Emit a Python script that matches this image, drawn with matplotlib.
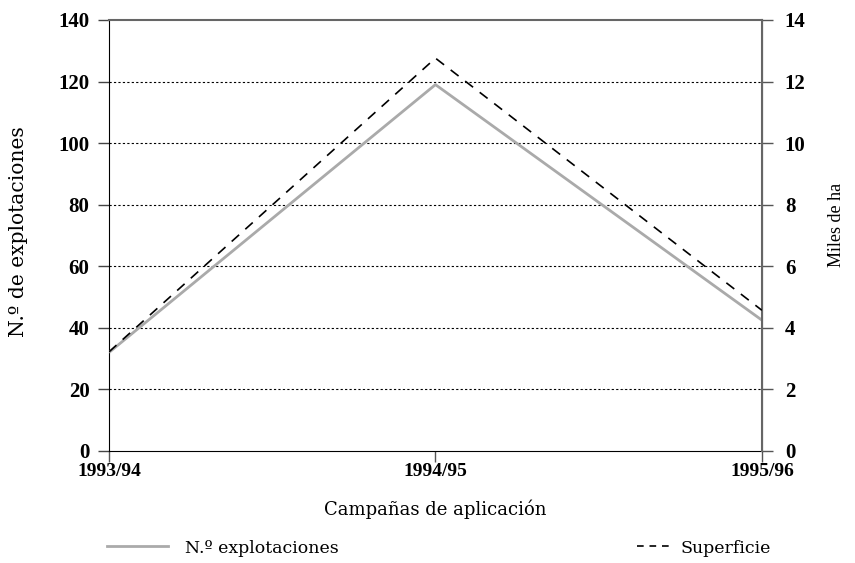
import matplotlib
matplotlib.use("Agg")
import matplotlib.pyplot as plt
from matplotlib.lines import Line2D

campaigns = ["1993/94", "1994/95", "1995/96"]
explotaciones = [32, 119, 42.5]
superficie = [3.22, 12.76, 4.57]
left_ticks = [0, 20, 40, 60, 80, 100, 120, 140]
right_ticks = [0, 2, 4, 6, 8, 10, 12, 14]

plt.rcParams['font.family'] = ['DejaVu Serif']
TICKFONT = ['Liberation Serif', 'DejaVu Serif']

fig = plt.figure(figsize=(8.55, 5.63), dpi=100)
ax = fig.add_axes([0.1275, 0.199, 0.7636, 0.7655])
ax2 = ax.twinx()

x = list(range(len(campaigns)))
ax.plot(x, explotaciones, color="#aaaaaa", lw=2, solid_capstyle='butt', zorder=3)
ax2.plot(x, superficie, color="black", lw=1.2, linestyle=(0, (6, 5)), zorder=3)

ax.set_xlim(0, 2)
ax.set_ylim(0, 140)
ax2.set_ylim(0, 14)
ax.set_yticks(left_ticks)
ax2.set_yticks(right_ticks)
ax.set_xticks(x)
ax.set_xticklabels(campaigns, fontsize=14, fontweight='bold', family=TICKFONT)
ax.set_yticklabels([str(v) for v in left_ticks], fontsize=15, fontweight='bold', family=TICKFONT)
ax2.set_yticklabels([str(v) for v in right_ticks], fontsize=15, fontweight='bold', family=TICKFONT)

for v in left_ticks[1:-1]:
    ax.axhline(v, color="black", lw=0.8, linestyle=(0, (2, 2)), zorder=1)

ax.tick_params(axis='y', direction='out', length=8, width=1, color="#444444", pad=6)
ax2.tick_params(axis='y', direction='out', length=8, width=1, color="#555555", pad=8.5)
ax.tick_params(axis='x', direction='out', length=8, width=1, color="#555555", pad=1)

ax.spines['left'].set_color('black')
ax.spines['bottom'].set_color('black')
ax.spines['top'].set_color('#666666')
ax.spines['top'].set_linewidth(1.5)
ax2.spines['right'].set_color('#666666')
ax2.spines['right'].set_linewidth(1.5)
for s in ['left', 'bottom', 'top']:
    ax2.spines[s].set_visible(False)

ax.set_ylabel("N.º de explotaciones", fontsize=14.6)
ax.yaxis.set_label_coords(-0.124, 0.51)
ax2.set_ylabel("Miles de ha", fontsize=13, family=TICKFONT)
ax2.yaxis.set_label_coords(1.101, 0.524)
ax.set_xlabel("Campañas de aplicación", fontsize=13, labelpad=14)

h1 = Line2D([], [], color="#aaaaaa", lw=2)
h2 = Line2D([], [], color="black", lw=1.2, linestyle=(0, (4, 3.5)))
leg1 = fig.legend([h1], ["N.º explotaciones"], loc='center left',
                  bbox_to_anchor=(107 / 855, 0.0266), frameon=False, fontsize=12.5,
                  handlelength=3.5, handletextpad=0.98, borderpad=0, borderaxespad=0)
leg2 = fig.legend([h2], ["Superficie"], loc='center right',
                  bbox_to_anchor=(771 / 855, 0.0266), frameon=False, fontsize=12.5,
                  handlelength=1.84, handletextpad=0.69, borderpad=0, borderaxespad=0)

fig.savefig("out.png", dpi=100)
